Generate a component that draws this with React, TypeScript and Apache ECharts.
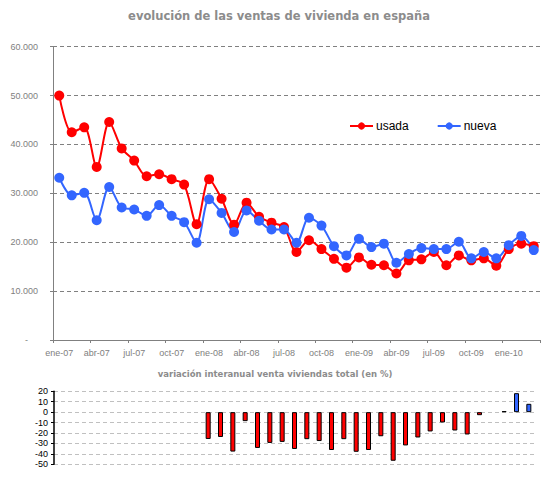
import React, { useEffect, useRef } from "react";
import * as echarts from "echarts";

const months = [
  "ene-07", "feb-07", "mar-07", "abr-07", "may-07", "jun-07", "jul-07", "ago-07", "sep-07", "oct-07", "nov-07", "dic-07",
  "ene-08", "feb-08", "mar-08", "abr-08", "may-08", "jun-08", "jul-08", "ago-08", "sep-08", "oct-08", "nov-08", "dic-08",
  "ene-09", "feb-09", "mar-09", "abr-09", "may-09", "jun-09", "jul-09", "ago-09", "sep-09", "oct-09", "nov-09", "dic-09",
  "ene-10", "feb-10", "mar-10",
];

const usada = [
  50000, 42500, 43500, 35400, 44600, 39200, 36700, 33500, 33900, 32900, 31800, 23700,
  32900, 28900, 23600, 28100, 25200, 24000, 23100, 18000, 20400, 18600, 16600, 14800,
  16900, 15400, 15300, 13600, 16300, 16500, 18000, 15300, 17300, 16300, 16700, 15200,
  18600, 19700, 19200,
];

const nueva = [
  33200, 29600, 30100, 24500, 31300, 27100, 26700, 25400, 27600, 25400, 24100, 19900,
  28800, 26000, 22100, 26500, 24400, 22600, 22600, 19900, 25000, 23400, 19200, 17300,
  20700, 19000, 19700, 15800, 17600, 18800, 18600, 18600, 20100, 16700, 18000, 16700,
  19400, 21300, 18400,
];

const variacion = [
  null, null, null, null, null, null, null, null, null, null, null, null,
  -25.7, -23.8, -37.8, -8.6, -34.3, -29.5, -28.5, -35.3, -25.9, -27.7, -36.3, -25.9,
  -38.0, -36.3, -23.1, -46.6, -31.9, -24.3, -18.5, -9.9, -17.6, -21.4, -2.9, null,
  1.0, 18.2, 8.0,
];

const topTicks = { min: 0, max: 60000, interval: 10000 };
const bottomTicks = { min: -50, max: 20, interval: 10 };

const RED = "#ff0000";
const BLUE = "#3366ff";
const GREY = "#808080";
const FONT = "'Liberation Sans', Arial, sans-serif";
const TITLE_FONT = "'DejaVu Sans', Verdana, sans-serif";

export default function App() {
  const ref = useRef<HTMLDivElement>(null);

  useEffect(() => {
    if (!ref.current) return;
    const chart = echarts.init(ref.current, null, { renderer: "svg" });
    const option: any = {
      animation: false,
      backgroundColor: "#ffffff",
      textStyle: { fontFamily: FONT },
      graphic: [
        {
          type: "text",
          x: 279,
          y: 16,
          style: {
            text: "evolución de las ventas de vivienda en españa",
            fill: "#8c8c8c",
            font: `bold 11.5px ${TITLE_FONT}`,
            textAlign: "center",
            textVerticalAlign: "middle",
          },
        },
        {
          type: "text",
          x: 275,
          y: 374,
          style: {
            text: "variación interanual venta viviendas total (en %)",
            fill: "#8c8c8c",
            font: `bold 8.5px ${TITLE_FONT}`,
            textAlign: "center",
            textVerticalAlign: "middle",
          },
        },
      ],
      legend: {
        data: ["usada", "nueva"],
        left: 349,
        top: 120,
        padding: 0,
        itemWidth: 23,
        itemHeight: 9,
        itemGap: 28,
        textStyle: { fontSize: 12, color: "#000", fontFamily: FONT, padding: [0, 0, 0, -2] },
      },
      grid: [
        { left: 53, right: 18, top: 46.7, bottom: 139 },
        { left: 54, right: 23, top: 391.3, bottom: 14.7 },
      ],
      xAxis: [
        {
          type: "category",
          gridIndex: 0,
          data: months,
          boundaryGap: true,
          axisLine: { lineStyle: { color: GREY, width: 1 } },
          axisTick: { show: true, interval: 2, length: 3, lineStyle: { color: GREY } },
          axisLabel: { interval: 2, color: GREY, fontSize: 9, margin: 8, fontFamily: FONT },
        },
        {
          type: "category",
          gridIndex: 1,
          data: months,
          show: false,
        },
      ],
      yAxis: [
        {
          type: "value",
          gridIndex: 0,
          ...topTicks,
          axisLine: { show: true, lineStyle: { color: GREY, width: 1 } },
          axisTick: { show: true, length: 3, lineStyle: { color: GREY } },
          splitLine: { show: true, lineStyle: { color: GREY, type: [4, 3], width: 1 } },
          axisLabel: {
            color: GREY,
            fontSize: 9,
            margin: 15,
            fontFamily: FONT,
            formatter: (v: number) => (v === 0 ? "{z|-}" : `${v / 1000}.000`),
            rich: { z: { color: GREY, fontSize: 9, padding: [0, 10, 0, 0] } },
          },
        },
        {
          type: "value",
          gridIndex: 1,
          ...bottomTicks,
          axisLine: { show: true, lineStyle: { color: "#000", width: 1.5 } },
          axisTick: { show: true, length: 3, lineStyle: { color: "#000" } },
          splitLine: { show: true, lineStyle: { color: "#c0c0c0", type: [4, 3], width: 1 } },
          axisLabel: { color: "#000", fontSize: 9, margin: 6, fontFamily: FONT },
        },
      ],
      series: [
        {
          name: "usada",
          type: "line",
          xAxisIndex: 0,
          yAxisIndex: 0,
          data: usada,
          smooth: 0.3,
          symbol: "circle",
          symbolSize: 10,
          showSymbol: true,
          showAllSymbol: true,
          lineStyle: { color: RED, width: 2 },
          itemStyle: { color: RED },
        },
        {
          name: "nueva",
          type: "line",
          xAxisIndex: 0,
          yAxisIndex: 0,
          data: nueva,
          smooth: 0.3,
          symbol: "circle",
          symbolSize: 10,
          showSymbol: true,
          showAllSymbol: true,
          lineStyle: { color: BLUE, width: 2 },
          itemStyle: { color: BLUE },
        },
        {
          name: "variación",
          type: "bar",
          xAxisIndex: 1,
          yAxisIndex: 1,
          data: variacion,
          barWidth: 5,
          itemStyle: {
            color: (p: any) => (p.value < 0 ? RED : BLUE),
            borderColor: "#000",
            borderWidth: 1,
          },
        },
      ],
    };
    chart.setOption(option);
    return () => chart.dispose();
  }, []);

  return (
    <div
      ref={ref}
      style={{ position: "absolute", left: 0, top: 0, width: 558, height: 479, background: "#fff" }}
    />
  );
}
